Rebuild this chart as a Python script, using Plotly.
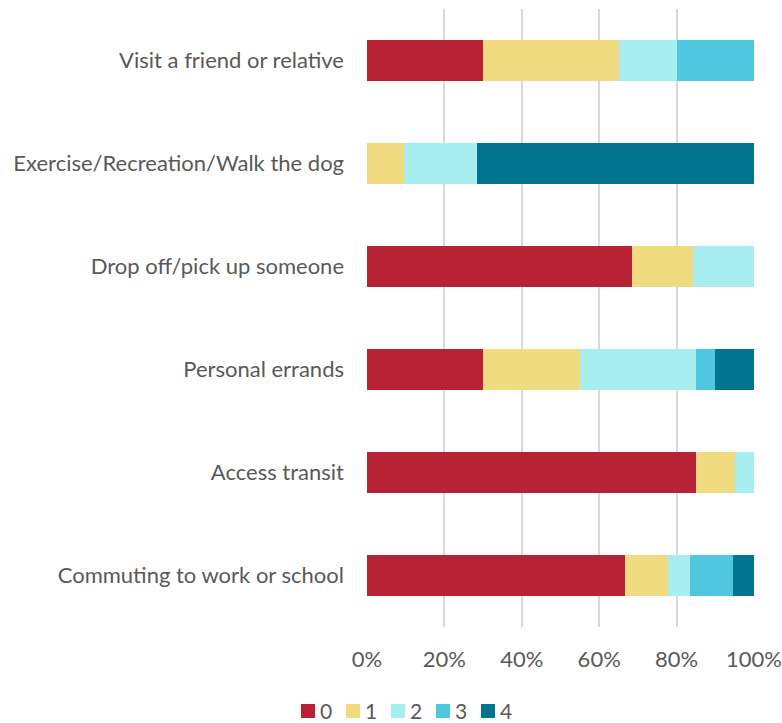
import plotly.graph_objects as go

# Trip purposes (bottom to top on the chart)
categories = [
    "Commuting to work or school",
    "Access transit",
    "Personal errands",
    "Drop off/pick up someone",
    "Exercise/Recreation/Walk the dog",
    "Visit a friend or relative",
]

# Share of responses (%) for each rating level, same order as categories
level_0 = [66.7, 85.0, 30.0, 68.4, 0.0, 30.0]
level_1 = [11.1, 10.0, 25.0, 15.8, 9.5, 35.0]
level_2 = [5.6, 5.0, 30.0, 15.8, 19.0, 15.0]
level_3 = [11.1, 0.0, 5.0, 0.0, 0.0, 20.0]
level_4 = [5.5, 0.0, 10.0, 0.0, 71.5, 0.0]

series_names = ["0", "1", "2", "3", "4"]
series_values = [level_0, level_1, level_2, level_3, level_4]
colors = ["#B72334", "#F0DB81", "#A8EDF0", "#4EC7DF", "#017490"]

FONT = "Lato"
GREY = "#595959"
SIZE = 22

W, H = 782, 723
M_L, M_R, M_T, M_B = 367, 28, 9, 96
PLOT_W = W - M_L - M_R
PLOT_H = H - M_T - M_B

fig = go.Figure()
for name, vals, col in zip(series_names, series_values, colors):
    fig.add_trace(go.Bar(
        y=categories,
        x=vals,
        name=name,
        orientation="h",
        marker=dict(color=col, line=dict(width=0)),
        hoverinfo="name+x+y",
        showlegend=False,
    ))

# Compact legend row below the axis: swatch + label per series
LEG_LEFT = 301   # px from left edge of the page
LEG_STEP = 45    # px between entries
LEG_MID = 710    # px from top of the page
SWATCH = 14
LEG_SIZE = 21


def px_to_paper_x(px):
    return (px - M_L) / PLOT_W


def px_to_paper_y(py):
    return (H - M_B - py) / PLOT_H


shapes, annotations = [], []
for i, (name, col) in enumerate(zip(series_names, colors)):
    left = LEG_LEFT + i * LEG_STEP
    shapes.append(dict(
        type="rect", xref="paper", yref="paper",
        xsizemode="pixel", ysizemode="pixel",
        xanchor=px_to_paper_x(left), yanchor=px_to_paper_y(LEG_MID + 1),
        x0=0, x1=SWATCH, y0=-SWATCH / 2, y1=SWATCH / 2,
        fillcolor=col, line=dict(width=0),
    ))
    annotations.append(dict(
        text=name, xref="paper", yref="paper",
        x=px_to_paper_x(left + SWATCH + 4), y=px_to_paper_y(LEG_MID),
        xanchor="left", yanchor="middle", showarrow=False,
        borderpad=0,
        font=dict(family=FONT, size=LEG_SIZE, color=GREY),
    ))

fig.update_layout(
    barmode="stack",
    barnorm="percent",
    bargap=0.6,
    width=W,
    height=H,
    margin=dict(l=M_L, r=M_R, t=M_T, b=M_B, autoexpand=False),
    paper_bgcolor="white",
    plot_bgcolor="white",
    font=dict(family=FONT, size=SIZE, color=GREY),
    showlegend=False,
    shapes=shapes,
    annotations=annotations,
    xaxis=dict(
        range=[0, 100],
        tickvals=[0, 20, 40, 60, 80, 100],
        ticktext=["0%", "20%", "40%", "60%", "80%", "100%"],
        showgrid=True,
        gridcolor="#D9D9D9",
        gridwidth=1.5,
        zeroline=False,
        showline=False,
        automargin=False,
        ticklabelstandoff=17,
        tickfont=dict(family=FONT, size=SIZE, color=GREY),
    ),
    yaxis=dict(
        showgrid=False,
        zeroline=False,
        showline=False,
        automargin=False,
        ticklabelstandoff=22,
        tickfont=dict(family=FONT, size=SIZE, color=GREY),
    ),
)

fig.write_html("out.html")
